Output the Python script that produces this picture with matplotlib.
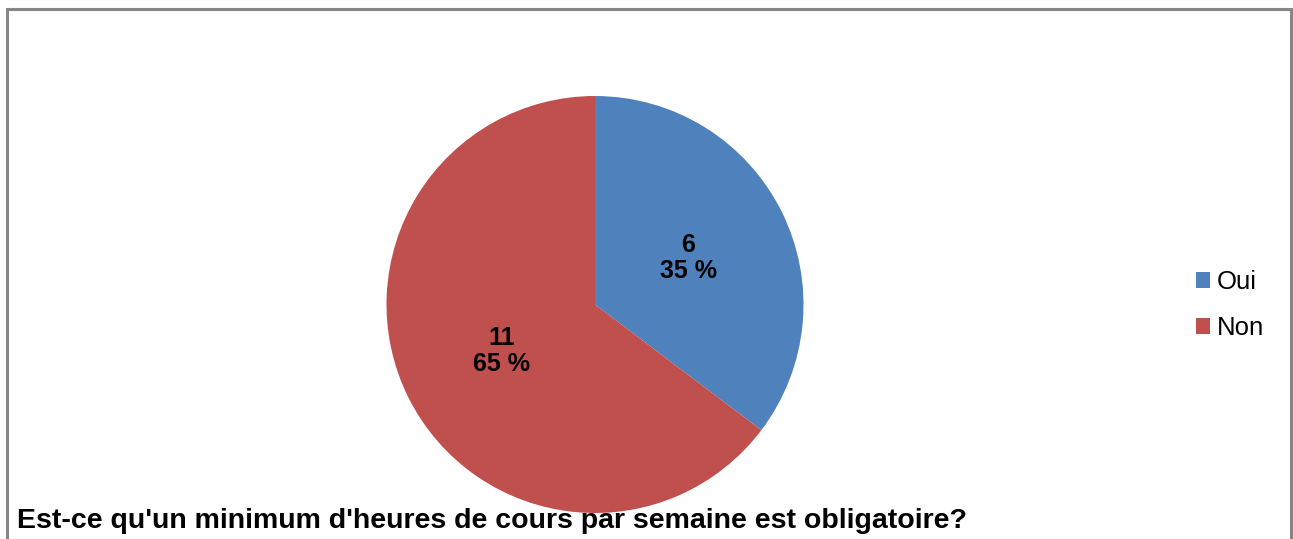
import matplotlib.pyplot as plt
from matplotlib.patches import Rectangle, Patch

labels = ['Oui', 'Non']
counts = [6, 11]
colors = ['#4F81BD', '#C0504D']
title = "Est-ce qu'un minimum d'heures de cours par semaine est obligatoire?"

plt.rcParams['font.family'] = ['Liberation Sans', 'DejaVu Sans']

W, H = 1293, 539
fig = plt.figure(figsize=(W / 100, H / 100), dpi=100)

# frame around the chart (bottom edge is cut off)
fig.patches.append(Rectangle((7 / W, -0.1), 1284 / W, 1.1 - 9 / H, transform=fig.transFigure,
                             fill=False, edgecolor='#878787', linewidth=2.2))

# pie axes placed in pixels: centre (595, 304.5), radius 208.5
cx, cy, r = 595, 304.5, 208.5
ax = fig.add_axes([(cx - r) / W, (H - cy - r) / H, 2 * r / W, 2 * r / H])
total = sum(counts)


def fmt(pct):
    n = int(round(pct * total / 100))
    return "{}\n{:.0f} %".format(n, pct)


wedges, texts, autotexts = ax.pie(counts, colors=colors, startangle=90, counterclock=False,
                                  autopct=fmt, pctdistance=0.5, radius=1,
                                  wedgeprops=dict(linewidth=0),
                                  textprops=dict(fontsize=18, fontweight='bold', color='black',
                                                 linespacing=1.15))
ax.set_xlim(-1, 1)
ax.set_ylim(-1, 1)
ax.set_aspect('equal')
ax.axis('off')

handles = [Patch(facecolor=c, edgecolor='none') for c in colors]
fig.legend(handles, labels, loc='center left', bbox_to_anchor=(1186 / W, 1 - 305 / H),
           frameon=False, fontsize=18.5, handlelength=0.55, handleheight=0.55,
           handletextpad=0.25, labelspacing=0.85, borderaxespad=0)

fig.text(17 / W, 1 - 521 / H, title, fontsize=20.5, fontweight='bold', va='center', ha='left')

fig.savefig('out.png', dpi=100)
